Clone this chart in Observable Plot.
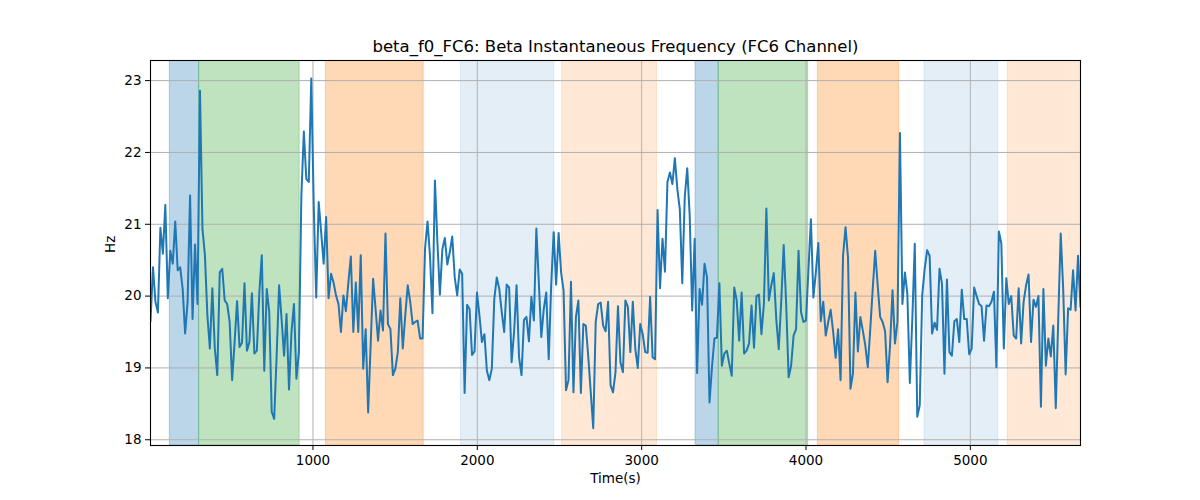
<!DOCTYPE html>
<html>
<head>
<meta charset="utf-8">
<script src="https://cdn.jsdelivr.net/npm/d3@7"></script>
<script src="https://cdn.jsdelivr.net/npm/@observablehq/plot@0.6"></script>
<style>
  html, body { margin: 0; padding: 0; background: #fff; }
  #chart { width: 1200px; height: 500px; }
</style>
</head>
<body>
<div id="chart"></div>
<script>
// ---- data ----
const titleText = "beta_f0_FC6: Beta Instantaneous Frequency (FC6 Channel)";
const xLabel = "Time(s)";
const yLabel = "Hz";
const xTicks = [1000, 2000, 3000, 4000, 5000];
const yTicks = [18, 19, 20, 21, 22, 23];

// sampling of the series (seconds)
const startTime = 11.4;
const sampleStep = 15.05;

// instantaneous frequency values (Hz), in time order
const hz = [
  19.65, 20.4, 19.92, 19.77, 20.95, 20.59, 21.27, 19.97, 20.63, 20.45, 21.04, 20.36, 20.4, 20.1, 19.48, 19.92, 21.4, 19.68, 20.72, 19.89,
  22.86, 20.94, 20.57, 19.73, 19.27, 20.11, 19.27, 18.9, 20.33, 20.38, 19.94, 19.89, 19.64, 18.83, 19.36, 19.93, 19.29, 19.35, 20.18, 19.24,
  19.36, 20.04, 19.2, 19.24, 20.05, 20.57, 18.96,
  20.1, 19.78, 18.39, 18.29, 19.17, 20.15, 19.68, 19.17, 19.75, 18.7, 19.5, 19.89, 18.85, 19.22, 21.4, 22.29, 21.63, 21.59, 23.03, 21.26,
  19.98, 21.31, 20.89, 20.45, 21.1, 19.97, 20.31, 20.19, 20.01, 19.89, 19.5, 20.01, 19.79, 20.19, 20.55, 19.5, 20.19, 19.5, 20.57, 18.99,
  19.54, 18.38, 19.31, 20.24, 19.82, 19.38, 19.8, 19.52, 20.87,
  19.61, 19.54, 18.9, 18.99, 19.22, 19.97, 19.27, 19.73, 20.15, 19.92, 19.61, 19.64, 19.66, 19.41, 19.41, 20.66, 21.04, 20.56, 19.76, 21.61,
  20.75, 20.02, 20.65, 20.81, 20.44, 20.61, 20.83, 20.26, 20.01, 20.37, 20.31, 18.65, 19.88, 19.82, 19.18, 19.23, 20.05, 19.73, 19.36, 19.47,
  18.96, 18.83, 18.99, 19.96, 20.26, 20.1, 19.78, 19.5,
  20.16, 20.12, 19.08, 19.5, 20.15, 19.15, 18.9, 19.67, 19.71, 19.37, 19.99, 19.66, 20.94, 20.19, 19.43, 19.82, 20.05, 19.12, 20.15, 20.89,
  20.16, 20.88, 20.33, 20.08, 18.69, 18.83, 20.2, 18.66, 19.71, 19.94, 18.65, 19.61, 19.59, 19.15, 18.66, 18.16, 19.64, 19.89, 19.91, 19.59,
  19.51, 19.92, 18.76, 18.66, 18.94, 19.86, 19.08, 18.94, 19.94,
  19.85, 19.22, 19.92, 19.27, 19.0, 19.61, 19.47, 19.22, 19.21, 19.99, 19.15, 19.12, 21.2, 20.11, 20.8, 20.34, 21.59, 21.72, 21.56, 21.92,
  21.49, 21.21, 20.18, 21.38, 21.78, 21.12, 19.8, 20.8, 18.93, 20.1, 19.88, 20.45, 20.26, 18.52, 19.01, 19.41, 19.42, 20.18, 19.03, 19.2,
  19.24, 19.06, 18.89, 20.12, 19.94, 19.38, 20.05, 19.2,
  19.24, 19.34, 19.87, 19.28, 20.0, 20.02, 19.47, 19.89, 21.22, 19.94, 20.15, 20.32, 19.68, 19.26, 19.92, 20.71, 19.89, 18.87, 19.03, 19.45,
  19.54, 20.63, 19.78, 19.64, 19.66, 20.36, 21.07, 19.98, 20.33, 20.74, 19.65, 19.92, 19.45, 19.64, 19.81, 19.5, 19.14, 19.54, 18.83, 20.56,
  20.96, 20.54, 18.71, 18.92, 20.05, 19.23, 19.71, 19.52, 19.31,
  19.01, 19.54, 20.1, 20.63, 20.15, 19.71, 19.64, 19.51, 18.8, 19.31, 20.08, 19.34, 19.64, 22.27, 19.89, 20.33, 20.03, 18.79, 19.68, 20.73,
  18.32, 18.48, 20.01, 20.38, 20.64, 20.56, 19.48, 19.63, 19.53, 20.38, 20.17, 18.92, 20.23, 19.22, 19.17, 19.65, 19.68, 19.36, 20.09, 19.68,
  19.68, 19.19, 19.27, 20.12, 20.0, 19.89, 19.86, 19.38,
  19.87, 19.86, 19.92, 20.06, 19.01, 20.9, 20.73, 19.27, 20.25, 19.89, 20.0, 19.45, 19.41, 20.11, 19.34, 19.92, 20.15, 20.3, 19.36, 19.95,
  19.85, 20.0, 18.46, 20.1, 19.03, 19.41, 19.16, 19.59, 18.44, 19.68, 20.87, 20.1, 18.91, 19.83, 19.81, 20.36, 19.8, 20.56, 19.85
];

// shaded intervals (seconds)
const bandStart = [129, 307, 1079, 1901, 2516, 3328, 3469, 4072, 4721, 5227];
const bandEnd   = [307, 919, 1674, 2468, 3093, 3469, 4013, 4567, 5170, 5800];
const bandColor = ["#1f77b4", "#2ca02c", "#ff7f0e", "#1f77b4", "#ff7f0e", "#1f77b4", "#2ca02c", "#ff7f0e", "#1f77b4", "#ff7f0e"];
const bandAlpha = [0.3, 0.3, 0.3, 0.12, 0.17, 0.3, 0.3, 0.3, 0.12, 0.17];

// ---- build tables ----
const series = hz.map((v, i) => ({t: startTime + i * sampleStep, v}));
const bands = bandStart.map((s, i) => ({s, e: bandEnd[i], c: bandColor[i], a: bandAlpha[i]}));
const tEnd = series[series.length - 1].t;

const font = "DejaVu Sans, sans-serif";
const fmt = d3.format("d");

const chart = Plot.plot({
  width: 1200,
  height: 500,
  marginLeft: 150,
  marginRight: 120,
  marginTop: 60,
  marginBottom: 55,
  style: {fontFamily: font, fontSize: "13.5px", color: "#000", background: "#fff", overflow: "visible"},
  x: {domain: [startTime, tEnd], label: null},
  y: {domain: [17.92, 23.28], label: null},
  marks: [
    Plot.rect(bands, {x1: "s", x2: "e", fill: "c", fillOpacity: "a", stroke: "c", strokeOpacity: "a", strokeWidth: 1, clip: true}),
    Plot.gridX(xTicks, {stroke: "#b0b0b0", strokeOpacity: 1, strokeWidth: 1}),
    Plot.gridY(yTicks, {stroke: "#b0b0b0", strokeOpacity: 1, strokeWidth: 1}),
    Plot.line(series, {x: "t", y: "v", stroke: "#1f77b4", strokeWidth: 2, clip: true}),
    Plot.frame({stroke: "#000", strokeWidth: 1.1}),
    Plot.axisX(xTicks, {tickSize: 5, tickPadding: 5, fontSize: 13.5, tickFormat: fmt, label: null, stroke: "#000"}),
    Plot.axisY(yTicks, {tickSize: 5, tickPadding: 4, fontSize: 13.5, tickFormat: fmt, label: null, stroke: "#000"}),
    Plot.text([titleText], {frameAnchor: "top", dy: -20, fontSize: 16.5, fill: "#000"}),
    Plot.text([xLabel], {frameAnchor: "bottom", dy: 37, fontSize: 13.5, fill: "#000"}),
    Plot.text([yLabel], {frameAnchor: "left", dx: -40, rotate: -90, fontSize: 13.5, fill: "#000"})
  ]
});
document.getElementById("chart").appendChild(chart);
</script>
</body>
</html>
